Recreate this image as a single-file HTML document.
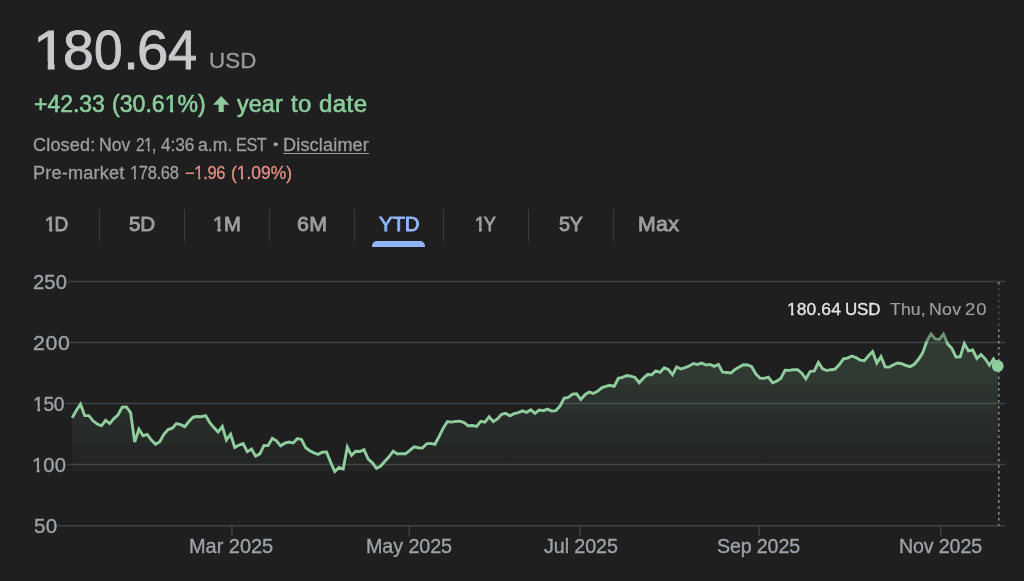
<!DOCTYPE html>
<html lang="en">
<head>
<meta charset="utf-8">
<title>180.64 USD</title>
<style>
html,body{margin:0;padding:0;}
body{width:1024px;height:581px;overflow:hidden;background:#1f1f1f;color:#9e9e9e;
  font-family:"Liberation Sans",sans-serif;position:relative;}
.page{position:absolute;left:0;top:0;width:1024px;height:581px;will-change:transform;}
.w{position:absolute;white-space:nowrap;line-height:1;display:block;transform-origin:0 0;}
.row{position:absolute;left:0;top:0;}
.one{display:inline-block;}
.price{position:absolute;left:35px;top:22.34px;font-size:56.3px;line-height:1;color:#c8c9cb;-webkit-text-stroke:0.9px #c8c9cb;}
.price span{position:absolute;top:0;display:block;transform-origin:0 50%;}
.cur{color:#9a9a9a;-webkit-text-stroke:0.35px #9a9a9a;}
.g{color:#8ccb9c;-webkit-text-stroke:0.6px #8ccb9c;}
.r{color:#e88f86;}
.arr{position:absolute;left:213.2px;top:95.6px;}
.meta,.pre{color:#9e9e9e;-webkit-text-stroke:0.3px currentColor;}
a.u{color:#9e9e9e;text-decoration:underline;text-decoration-thickness:1.3px;text-underline-offset:2.2px;}
.tabs{position:absolute;left:0;top:208.5px;height:32.7px;}
.tab{position:absolute;top:0;height:32.7px;box-sizing:border-box;border-right:1.4px solid #393b3c;color:#9e9e9e;-webkit-text-stroke:0.9px currentColor;}
.tab:last-child{border-right:none;}
.tab.sel{color:#8fb5f7;}
.tab.sel::after{content:"";position:absolute;left:16.6px;right:18.2px;top:32.6px;height:6px;background:#8fb5f7;border-radius:5px 5px 0 0;}
svg.chart{position:absolute;left:0;top:0;}
.ax{color:#9da2a7;-webkit-text-stroke:0.35px #9da2a7;}
.tv{color:#e6e6e6;-webkit-text-stroke:0.3px #e6e6e6;} .td{color:#9e9e9e;-webkit-text-stroke:0.2px #9e9e9e;}
</style>
</head>
<body>
<div class="page">
<div class="price"><span style="left:-2.00px;transform:scaleX(1.070);clip-path:polygon(-5px -5px,40px -5px,40px 39.6px,20.15px 39.6px,20.15px 60px,13.75px 60px,13.75px 39.6px,-5px 39.6px);">1</span><span style="left:28.19px;transform:scaleX(0.983);">8</span><span style="left:59.46px;transform:scaleX(0.911);">0</span><span style="left:88.14px;transform:scaleX(1.000);">.</span><span style="left:102.03px;transform:scaleX(1.000);">6</span><span style="left:132.74px;transform:scaleX(0.927);">4</span></div>
<span class="w cur" style="left:209.27px;top:50.08px;font-size:22px;letter-spacing:0.171px;transform:scaleX(1.0144);">USD</span> 
<div class="row chg"><span class="w g" style="left:34.05px;top:92.73px;font-size:23px;letter-spacing:-0.009px;transform:scaleX(0.9988);">+42.33</span> <span class="w g" style="left:111.86px;top:92.73px;font-size:23px;letter-spacing:0.018px;transform:scaleX(1.0025);">(30.6<span class="one" style="clip-path:polygon(-2px -2px,23px -2px,23px 13.26px,8.58px 13.26px,8.58px 25px,5.29px 25px,5.29px 13.26px,-2px 13.26px)">1</span>%)</span> <svg class="arr" width="16.4" height="16.2" viewBox="0 0 16.4 16.2"><path d="M8.2 0.3 L16 8.6 H10.55 V16.2 H5.85 V8.6 H0.4 Z" fill="#8ccb9c" stroke="#8ccb9c" stroke-width="0.5" stroke-linejoin="round"/></svg><span class="w g" style="left:236.65px;top:92.73px;font-size:23px;letter-spacing:0.113px;transform:scaleX(1.0139);">year</span> <span class="w g" style="left:291.35px;top:92.73px;font-size:23px;letter-spacing:0.426px;transform:scaleX(1.0419);">to</span> <span class="w g" style="left:318.79px;top:92.73px;font-size:23px;letter-spacing:0.376px;transform:scaleX(1.0470);">date</span> </div>
<div class="row meta"><span class="w " style="left:33.30px;top:136.79px;font-size:17.5px;letter-spacing:0.165px;transform:scaleX(1.0317);">Closed:</span> <span class="w " style="left:99.15px;top:136.79px;font-size:17.5px;letter-spacing:0.039px;transform:scaleX(1.0049);">Nov</span> <span class="w " style="left:135.53px;top:136.79px;font-size:17.5px;letter-spacing:-0.643px;transform:scaleX(0.8840);">2<span class="one" style="clip-path:polygon(-2px -2px,17.5px -2px,17.5px 10.09px,6.33px 10.09px,6.33px 19.5px,4.22px 19.5px,4.22px 10.09px,-2px 10.09px)">1</span>,</span> <span class="w " style="left:160.81px;top:136.79px;font-size:17.5px;letter-spacing:-0.070px;transform:scaleX(0.9881);">4:36</span> <span class="w " style="left:197.65px;top:136.79px;font-size:17.5px;letter-spacing:0.044px;transform:scaleX(1.0078);">a.m.</span> <span class="w " style="left:236.15px;top:136.79px;font-size:17.5px;letter-spacing:-0.542px;transform:scaleX(0.9352);">EST</span> <span class="w " style="left:272.58px;top:139.02px;font-size:12.5px;letter-spacing:0.000px;transform:scaleX(1.2444);">•</span> <a class="w u" style="left:283.11px;top:136.79px;font-size:17.5px;letter-spacing:0.160px;transform:scaleX(1.0329);">Disclaimer</a> </div>
<div class="row pre"><span class="w " style="left:33.01px;top:165.29px;font-size:17.5px;letter-spacing:0.180px;transform:scaleX(1.0348);">Pre-market</span> <span class="w " style="left:130.27px;top:165.29px;font-size:17.5px;letter-spacing:-0.318px;transform:scaleX(0.9407);"><span class="one" style="clip-path:polygon(-2px -2px,17.5px -2px,17.5px 10.09px,6.33px 10.09px,6.33px 19.5px,4.22px 19.5px,4.22px 10.09px,-2px 10.09px)">1</span>78.68</span> <span class="w r" style="left:184.78px;top:165.29px;font-size:17.5px;letter-spacing:-0.320px;transform:scaleX(0.9426);">−<span class="one" style="clip-path:polygon(-2px -2px,17.5px -2px,17.5px 10.09px,6.33px 10.09px,6.33px 19.5px,4.22px 19.5px,4.22px 10.09px,-2px 10.09px)">1</span>.96</span> <span class="w r" style="left:230.61px;top:165.29px;font-size:17.5px;letter-spacing:-0.015px;transform:scaleX(0.9971);">(<span class="one" style="clip-path:polygon(-2px -2px,17.5px -2px,17.5px 10.09px,6.33px 10.09px,6.33px 19.5px,4.22px 19.5px,4.22px 10.09px,-2px 10.09px)">1</span>.09%)</span> </div>
<div class="tabs">
<div class="tab" style="left:15px;width:85px"><span class="w " style="left:30.38px;top:5.79px;font-size:20.8px;letter-spacing:-1.093px;transform:scaleX(0.9148);"><span class="one" style="clip-path:polygon(-2px -2px,20.8px -2px,20.8px 11.99px,7.95px 11.99px,7.95px 22.8px,4.59px 22.8px,4.59px 11.99px,-2px 11.99px)">1</span>D</span> </div>
<div class="tab" style="left:100px;width:85px"><span class="w " style="left:29.32px;top:5.79px;font-size:20.8px;letter-spacing:-0.123px;transform:scaleX(0.9910);">5D</span> </div>
<div class="tab" style="left:185px;width:85px"><span class="w " style="left:28.32px;top:5.79px;font-size:20.8px;letter-spacing:-0.379px;transform:scaleX(0.9730);"><span class="one" style="clip-path:polygon(-2px -2px,20.8px -2px,20.8px 11.99px,7.95px 11.99px,7.95px 22.8px,4.59px 22.8px,4.59px 11.99px,-2px 11.99px)">1</span>M</span> </div>
<div class="tab" style="left:270px;width:85px"><span class="w " style="left:27.19px;top:5.79px;font-size:20.8px;letter-spacing:0.384px;transform:scaleX(1.0260);">6M</span> </div>
<div class="tab sel" style="left:355px;width:89px"><span class="w " style="left:24.38px;top:5.79px;font-size:20.8px;letter-spacing:-0.165px;transform:scaleX(0.9849);">YTD</span> </div>
<div class="tab" style="left:444px;width:85px"><span class="w " style="left:31.44px;top:5.79px;font-size:20.8px;letter-spacing:-1.610px;transform:scaleX(0.8682);"><span class="one" style="clip-path:polygon(-2px -2px,20.8px -2px,20.8px 11.99px,7.95px 11.99px,7.95px 22.8px,4.59px 22.8px,4.59px 11.99px,-2px 11.99px)">1</span>Y</span> </div>
<div class="tab" style="left:529px;width:85px"><span class="w " style="left:30.43px;top:5.79px;font-size:20.8px;letter-spacing:-0.535px;transform:scaleX(0.9594);">5Y</span> </div>
<div class="tab" style="left:614px;width:91px"><span class="w " style="left:24.30px;top:5.79px;font-size:20.8px;letter-spacing:0.256px;transform:scaleX(1.0246);">Max</span> </div>
</div>
<svg class="chart" width="1024" height="581" viewBox="0 0 1024 581">
<defs><linearGradient id="fillgrad" x1="0" y1="0" x2="0" y2="1"><stop offset="0.0000" stop-color="#8fcd9e" stop-opacity="0.16"/><stop offset="0.3633" stop-color="#8fcd9e" stop-opacity="0.15"/><stop offset="0.3720" stop-color="#8fcd9e" stop-opacity="0.12"/><stop offset="0.5775" stop-color="#8fcd9e" stop-opacity="0.108"/><stop offset="0.5862" stop-color="#8fcd9e" stop-opacity="0.084"/><stop offset="0.8026" stop-color="#8fcd9e" stop-opacity="0.068"/><stop offset="0.8114" stop-color="#8fcd9e" stop-opacity="0.046"/><stop offset="1.0000" stop-color="#8fcd9e" stop-opacity="0.034"/></linearGradient></defs>
<line x1="68.4" y1="281.4" x2="1005.3" y2="281.4" stroke="#3e4143" stroke-width="1.5"/>
<line x1="70.0" y1="342.5" x2="1005.3" y2="342.5" stroke="#3e4143" stroke-width="1.5"/>
<line x1="65.3" y1="403.6" x2="1005.3" y2="403.6" stroke="#3e4143" stroke-width="1.5"/>
<line x1="67.6" y1="464.6" x2="1005.3" y2="464.6" stroke="#3e4143" stroke-width="1.5"/>
<line x1="57.5" y1="525.7" x2="1005.3" y2="525.7" stroke="#3e4143" stroke-width="1.5"/>
<line x1="231.9" y1="525.7" x2="231.9" y2="536.2" stroke="#3e4143" stroke-width="1.5"/>
<line x1="409.3" y1="525.7" x2="409.3" y2="536.2" stroke="#3e4143" stroke-width="1.5"/>
<line x1="580.2" y1="525.7" x2="580.2" y2="536.2" stroke="#3e4143" stroke-width="1.5"/>
<line x1="759.2" y1="525.7" x2="759.2" y2="536.2" stroke="#3e4143" stroke-width="1.5"/>
<line x1="940.8" y1="525.7" x2="940.8" y2="536.2" stroke="#3e4143" stroke-width="1.5"/>
<path d="M72.2 417.8 L76.4 410.3 L80.5 404.2 L84.7 415.6 L88.9 415.6 L93.0 420.8 L97.2 424.0 L101.4 425.8 L105.6 420.4 L109.7 423.6 L113.9 418.6 L118.1 414.8 L122.2 407.1 L126.4 406.9 L130.6 412.6 L134.7 442.1 L138.9 429.2 L143.1 435.7 L147.2 434.5 L151.4 440.1 L155.6 444.3 L159.7 441.8 L163.9 434.3 L168.1 429.6 L172.3 428.2 L176.4 423.6 L180.6 424.6 L184.8 426.6 L188.9 421.5 L193.1 417.2 L197.3 416.5 L201.4 416.7 L205.6 415.6 L209.8 422.6 L213.9 427.6 L218.1 432.1 L222.3 426.4 L226.4 440.0 L230.6 434.2 L234.8 447.5 L239.0 445.1 L243.1 443.5 L247.3 451.7 L251.5 449.1 L255.6 456.1 L259.8 453.9 L264.0 445.4 L268.1 445.6 L272.3 438.2 L276.5 440.8 L280.6 445.8 L284.8 443.2 L289.0 442.0 L293.2 443.0 L297.3 438.5 L301.5 439.4 L305.7 447.8 L309.8 450.7 L314.0 452.8 L318.2 454.4 L322.3 452.2 L326.5 451.9 L330.7 462.4 L334.8 471.6 L339.0 467.5 L343.2 469.1 L347.3 447.1 L351.5 455.4 L355.7 451.3 L359.9 451.5 L364.0 449.7 L368.2 459.1 L372.4 462.8 L376.5 468.4 L380.7 466.0 L384.9 461.3 L389.0 456.8 L393.2 451.2 L397.4 454.0 L401.5 453.6 L405.7 453.7 L409.9 450.4 L414.1 446.9 L418.2 447.7 L422.4 448.1 L426.6 443.8 L430.7 443.4 L434.9 444.3 L439.1 436.5 L443.2 428.1 L447.4 421.5 L451.6 422.1 L455.7 421.4 L459.9 421.2 L464.1 422.6 L468.2 425.8 L472.4 425.5 L476.6 426.4 L480.8 421.3 L484.9 422.1 L489.1 416.8 L493.3 421.7 L497.4 419.0 L501.6 414.3 L505.8 413.4 L509.9 415.8 L514.1 413.7 L518.3 412.6 L522.4 410.9 L526.6 412.3 L530.8 409.7 L535.0 413.4 L539.1 410.0 L543.3 410.7 L547.5 409.1 L551.6 411.1 L555.8 410.7 L560.0 406.1 L564.1 398.3 L568.3 397.4 L572.5 394.1 L576.6 393.8 L580.8 399.5 L585.0 394.7 L589.1 392.1 L593.3 393.5 L597.5 391.3 L601.7 387.8 L605.8 386.3 L610.0 385.3 L614.2 386.4 L618.3 378.3 L622.5 377.4 L626.7 375.5 L630.8 376.2 L635.0 377.4 L639.2 382.7 L643.3 378.2 L647.5 374.6 L651.7 374.8 L655.8 370.9 L660.0 372.4 L664.2 367.8 L668.4 369.5 L672.5 374.6 L676.7 366.9 L680.9 369.0 L685.0 367.6 L689.2 366.0 L693.4 363.6 L697.5 364.4 L701.7 363.0 L705.9 365.0 L710.0 364.4 L714.2 366.4 L718.4 364.4 L722.6 372.2 L726.7 372.5 L730.9 373.0 L735.1 369.4 L739.2 367.1 L743.4 364.7 L747.6 365.0 L751.7 366.7 L755.9 374.0 L760.1 378.2 L764.2 378.4 L768.4 377.1 L772.6 382.8 L776.7 381.2 L780.9 378.2 L785.1 370.2 L789.3 370.4 L793.4 369.6 L797.6 369.7 L801.8 373.2 L805.9 378.8 L810.1 371.5 L814.3 371.0 L818.4 362.5 L822.6 368.8 L826.8 370.6 L830.9 369.7 L835.1 369.1 L839.3 364.6 L843.5 358.9 L847.6 358.1 L851.8 356.0 L856.0 357.6 L860.1 360.1 L864.3 360.7 L868.5 355.8 L872.6 351.6 L876.8 363.0 L881.0 356.7 L885.1 366.9 L889.3 367.1 L893.5 364.7 L897.6 363.0 L901.8 363.7 L906.0 365.5 L910.2 366.6 L914.3 364.3 L918.5 359.3 L922.7 352.9 L926.8 341.2 L931.0 333.9 L935.2 338.9 L939.3 339.4 L943.5 334.1 L947.7 344.1 L951.8 348.3 L956.0 357.0 L960.2 356.9 L964.3 343.6 L968.5 350.8 L972.7 350.0 L976.9 358.5 L981.0 354.5 L985.2 358.8 L989.4 365.2 L993.5 358.9 L997.7 366.1 L997.7 471.6 L72.2 471.6 Z" fill="url(#fillgrad)" stroke="none"/>
<path d="M72.2 417.8 L76.4 410.3 L80.5 404.2 L84.7 415.6 L88.9 415.6 L93.0 420.8 L97.2 424.0 L101.4 425.8 L105.6 420.4 L109.7 423.6 L113.9 418.6 L118.1 414.8 L122.2 407.1 L126.4 406.9 L130.6 412.6 L134.7 442.1 L138.9 429.2 L143.1 435.7 L147.2 434.5 L151.4 440.1 L155.6 444.3 L159.7 441.8 L163.9 434.3 L168.1 429.6 L172.3 428.2 L176.4 423.6 L180.6 424.6 L184.8 426.6 L188.9 421.5 L193.1 417.2 L197.3 416.5 L201.4 416.7 L205.6 415.6 L209.8 422.6 L213.9 427.6 L218.1 432.1 L222.3 426.4 L226.4 440.0 L230.6 434.2 L234.8 447.5 L239.0 445.1 L243.1 443.5 L247.3 451.7 L251.5 449.1 L255.6 456.1 L259.8 453.9 L264.0 445.4 L268.1 445.6 L272.3 438.2 L276.5 440.8 L280.6 445.8 L284.8 443.2 L289.0 442.0 L293.2 443.0 L297.3 438.5 L301.5 439.4 L305.7 447.8 L309.8 450.7 L314.0 452.8 L318.2 454.4 L322.3 452.2 L326.5 451.9 L330.7 462.4 L334.8 471.6 L339.0 467.5 L343.2 469.1 L347.3 447.1 L351.5 455.4 L355.7 451.3 L359.9 451.5 L364.0 449.7 L368.2 459.1 L372.4 462.8 L376.5 468.4 L380.7 466.0 L384.9 461.3 L389.0 456.8 L393.2 451.2 L397.4 454.0 L401.5 453.6 L405.7 453.7 L409.9 450.4 L414.1 446.9 L418.2 447.7 L422.4 448.1 L426.6 443.8 L430.7 443.4 L434.9 444.3 L439.1 436.5 L443.2 428.1 L447.4 421.5 L451.6 422.1 L455.7 421.4 L459.9 421.2 L464.1 422.6 L468.2 425.8 L472.4 425.5 L476.6 426.4 L480.8 421.3 L484.9 422.1 L489.1 416.8 L493.3 421.7 L497.4 419.0 L501.6 414.3 L505.8 413.4 L509.9 415.8 L514.1 413.7 L518.3 412.6 L522.4 410.9 L526.6 412.3 L530.8 409.7 L535.0 413.4 L539.1 410.0 L543.3 410.7 L547.5 409.1 L551.6 411.1 L555.8 410.7 L560.0 406.1 L564.1 398.3 L568.3 397.4 L572.5 394.1 L576.6 393.8 L580.8 399.5 L585.0 394.7 L589.1 392.1 L593.3 393.5 L597.5 391.3 L601.7 387.8 L605.8 386.3 L610.0 385.3 L614.2 386.4 L618.3 378.3 L622.5 377.4 L626.7 375.5 L630.8 376.2 L635.0 377.4 L639.2 382.7 L643.3 378.2 L647.5 374.6 L651.7 374.8 L655.8 370.9 L660.0 372.4 L664.2 367.8 L668.4 369.5 L672.5 374.6 L676.7 366.9 L680.9 369.0 L685.0 367.6 L689.2 366.0 L693.4 363.6 L697.5 364.4 L701.7 363.0 L705.9 365.0 L710.0 364.4 L714.2 366.4 L718.4 364.4 L722.6 372.2 L726.7 372.5 L730.9 373.0 L735.1 369.4 L739.2 367.1 L743.4 364.7 L747.6 365.0 L751.7 366.7 L755.9 374.0 L760.1 378.2 L764.2 378.4 L768.4 377.1 L772.6 382.8 L776.7 381.2 L780.9 378.2 L785.1 370.2 L789.3 370.4 L793.4 369.6 L797.6 369.7 L801.8 373.2 L805.9 378.8 L810.1 371.5 L814.3 371.0 L818.4 362.5 L822.6 368.8 L826.8 370.6 L830.9 369.7 L835.1 369.1 L839.3 364.6 L843.5 358.9 L847.6 358.1 L851.8 356.0 L856.0 357.6 L860.1 360.1 L864.3 360.7 L868.5 355.8 L872.6 351.6 L876.8 363.0 L881.0 356.7 L885.1 366.9 L889.3 367.1 L893.5 364.7 L897.6 363.0 L901.8 363.7 L906.0 365.5 L910.2 366.6 L914.3 364.3 L918.5 359.3 L922.7 352.9 L926.8 341.2 L931.0 333.9 L935.2 338.9 L939.3 339.4 L943.5 334.1 L947.7 344.1 L951.8 348.3 L956.0 357.0 L960.2 356.9 L964.3 343.6 L968.5 350.8 L972.7 350.0 L976.9 358.5 L981.0 354.5 L985.2 358.8 L989.4 365.2 L993.5 358.9 L997.7 366.1" fill="none" stroke="#8fcd9e" stroke-width="2.9" stroke-linejoin="miter" stroke-miterlimit="4" stroke-linecap="butt"/>
<line x1="998.8" y1="282.0" x2="998.8" y2="525.7" stroke="#959595" stroke-width="1.4" stroke-dasharray="2.6 3.3"/>
<rect x="997" y="287.5" width="4" height="40" fill="#1f1f1f" fill-opacity="0.62"/>
<rect x="920" y="327.5" width="32" height="14.2" fill="#1f1f1f" fill-opacity="0.32"/>
<circle cx="997.7" cy="366.1" r="6" fill="#8fcd9e"/>
</svg>
<div class="axes"><span class="w ax" style="left:33.27px;top:271.67px;font-size:20px;letter-spacing:0.096px;transform:scaleX(1.0111);">250</span> 
<span class="w ax" style="left:33.12px;top:332.74px;font-size:20px;letter-spacing:0.569px;transform:scaleX(1.0638);">200</span> 
<span class="w ax" style="left:32.53px;top:393.82px;font-size:20px;letter-spacing:-0.324px;transform:scaleX(0.9610);"><span class="one" style="clip-path:polygon(-2px -2px,20px -2px,20px 11.53px,7.39px 11.53px,7.39px 22px,4.67px 22px,4.67px 11.53px,-2px 11.53px)">1</span>50</span> 
<span class="w ax" style="left:32.46px;top:454.89px;font-size:20px;letter-spacing:0.096px;transform:scaleX(1.0113);"><span class="one" style="clip-path:polygon(-2px -2px,20px -2px,20px 11.53px,7.39px 11.53px,7.39px 22px,4.67px 22px,4.67px 11.53px,-2px 11.53px)">1</span>00</span> 
<span class="w ax" style="left:33.56px;top:515.97px;font-size:20px;letter-spacing:0.315px;transform:scaleX(1.0274);">50</span> 
<span class="w ax" style="left:189.43px;top:535.67px;font-size:20px;letter-spacing:-0.018px;transform:scaleX(0.9972);">Mar 2025</span> 
<span class="w ax" style="left:366.05px;top:535.67px;font-size:20px;letter-spacing:-0.090px;transform:scaleX(0.9862);">May 2025</span> 
<span class="w ax" style="left:543.68px;top:535.67px;font-size:20px;letter-spacing:-0.087px;transform:scaleX(0.9847);">Jul 2025</span> 
<span class="w ax" style="left:717.29px;top:535.67px;font-size:20px;letter-spacing:-0.127px;transform:scaleX(0.9801);">Sep 2025</span> 
<span class="w ax" style="left:898.55px;top:535.67px;font-size:20px;letter-spacing:-0.125px;transform:scaleX(0.9803);">Nov 2025</span> </div>
<div class="row tip"><span class="w tv" style="left:787.09px;top:300.74px;font-size:17.2px;letter-spacing:0.089px;transform:scaleX(1.0160);"><span class="one" style="clip-path:polygon(-2px -2px,17.2px -2px,17.2px 9.92px,6.43px 9.92px,6.43px 19.2px,3.94px 19.2px,3.94px 9.92px,-2px 9.92px)">1</span>80.64</span> <span class="w tv" style="left:845.28px;top:300.74px;font-size:17.2px;letter-spacing:-0.137px;transform:scaleX(0.9851);">USD</span> <span class="w td" style="left:889.71px;top:300.74px;font-size:17.2px;letter-spacing:0.144px;transform:scaleX(1.0243);">Thu,</span> <span class="w td" style="left:928.84px;top:300.74px;font-size:17.2px;letter-spacing:0.251px;transform:scaleX(1.0313);">Nov</span> <span class="w td" style="left:965.28px;top:300.74px;font-size:17.2px;letter-spacing:0.775px;transform:scaleX(1.0775);">20</span> </div>
</div>
</body>
</html>
